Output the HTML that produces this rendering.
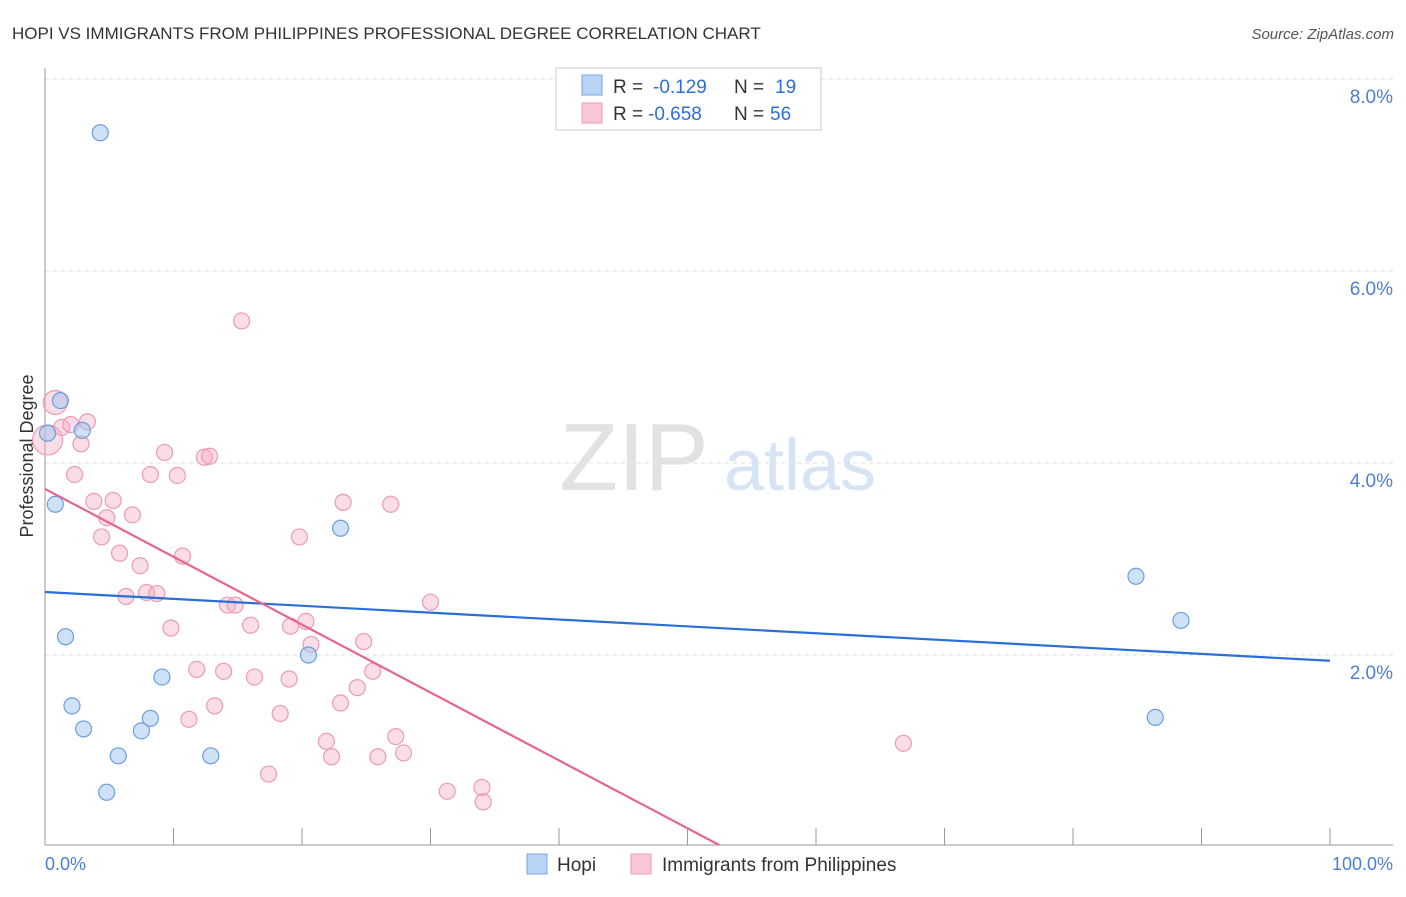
<!DOCTYPE html>
<html><head><meta charset="utf-8"><style>
body{margin:0;background:#fff;font-family:"Liberation Sans",sans-serif;}
svg text{font-family:"Liberation Sans",sans-serif;}
</style></head><body>
<svg width="1406" height="892" xmlns="http://www.w3.org/2000/svg">
<text x="12" y="39" font-size="17" fill="#333">HOPI VS IMMIGRANTS FROM PHILIPPINES PROFESSIONAL DEGREE CORRELATION CHART</text>
<text x="1394" y="39" font-size="15" fill="#555" font-style="italic" text-anchor="end">Source: ZipAtlas.com</text>
<g id="grid"></g>
<text x="634" y="490" font-size="96" fill="#e2e2e2" font-family="Liberation Serif" text-anchor="middle">ZIP</text>
<text x="800" y="490" font-size="72" fill="#d6e4f5" text-anchor="middle">atlas</text>
<line x1="45" y1="68" x2="45" y2="845" stroke="#999"/>
<line x1="45" y1="845" x2="1393" y2="845" stroke="#999"/>
<text transform="translate(33,456) rotate(-90)" font-size="18" fill="#333" text-anchor="middle">Professional Degree</text>
<text x="45" y="870" font-size="18" fill="#4a7fd4">0.0%</text>
<text x="1393" y="870" font-size="18" fill="#4a7fd4" text-anchor="end">100.0%</text>
<g id="marks"></g>
<g>
<rect x="556" y="68" width="265" height="62" fill="#fff" stroke="#ccc"/>
<rect x="582" y="75" width="20" height="20" fill="#b8d3f5" stroke="#7aa6e3"/>
<rect x="582" y="103" width="20" height="20" fill="#f8c6d4" stroke="#ea9ab2"/>
<text x="613" y="93" font-size="19" fill="#333">R =</text>
<text x="653" y="93" font-size="19" fill="#2d6fd6">-0.129</text>
<text x="734" y="93" font-size="19" fill="#333">N =</text>
<text x="775" y="93" font-size="19" fill="#2d6fd6">19</text>
<text x="613" y="120" font-size="19" fill="#333">R =</text>
<text x="648" y="120" font-size="19" fill="#2d6fd6">-0.658</text>
<text x="734" y="120" font-size="19" fill="#333">N =</text>
<text x="770" y="120" font-size="19" fill="#2d6fd6">56</text>
</g>
<g>
<rect x="527" y="854" width="20" height="20" fill="#b8d3f5" stroke="#7aa6e3"/>
<text x="557" y="871" font-size="19" fill="#333">Hopi</text>
<rect x="631" y="854" width="20" height="20" fill="#f8c6d4" stroke="#ea9ab2"/>
<text x="662" y="871" font-size="19" fill="#333">Immigrants from Philippines</text>
</g>
</svg>
<script>
const yTicks=[2,4,6,8];
const xTickCount=10;
const hopiX=[4.3,0.2,1.2,2.9,0.8,1.6,2.1,3.0,5.7,4.8,7.5,8.2,9.1,12.9,20.5,23.0,84.9,88.4,86.4];
const hopiY=[7.44,4.31,4.65,4.34,3.57,2.19,1.47,1.23,0.95,0.57,1.21,1.34,1.77,0.95,2.0,3.32,2.82,2.36,1.35];
const phX=[15.3,0.8,0.2,1.3,2.0,3.3,2.8,2.3,3.8,5.3,4.8,6.8,4.4,5.8,7.4,6.3,7.9,8.7,9.3,8.2,10.3,10.7,9.8,12.4,12.8,14.2,14.8,16.0,19.1,20.3,19.8,23.2,26.9,11.8,13.9,16.3,19.0,20.7,24.8,25.5,24.3,23.0,13.2,11.2,18.3,21.9,22.3,27.3,25.9,27.9,17.4,30.0,31.3,34.0,34.1,66.8];
const phY=[5.48,4.63,4.24,4.37,4.4,4.43,4.2,3.88,3.6,3.61,3.43,3.46,3.23,3.06,2.93,2.61,2.65,2.64,4.11,3.88,3.87,3.03,2.28,4.06,4.07,2.52,2.52,2.31,2.3,2.35,3.23,3.59,3.57,1.85,1.83,1.77,1.75,2.11,2.14,1.83,1.66,1.5,1.47,1.33,1.39,1.1,0.94,1.15,0.94,0.98,0.76,2.55,0.58,0.62,0.47,1.08];
const hopiLine=[2.656,1.94];   // value at x=0, x=100
const phLine=[3.73,-3.38];     // value at x=0, x=100
const X=v=>45+v*12.85, Y=v=>847-v*96;
const NS="http://www.w3.org/2000/svg";
const grid=document.getElementById('grid'), marks=document.getElementById('marks');
function mk(tag,attrs,parent){const e=document.createElementNS(NS,tag);for(const k in attrs)e.setAttribute(k,attrs[k]);parent.appendChild(e);return e;}
yTicks.forEach(t=>{
  const l=mk('line',{x1:45,x2:1393,y1:Y(t),y2:Y(t),stroke:'#ddd','stroke-dasharray':'4,4'},grid);
  
  
  const tx=mk('text',{x:1393,y:Y(t)+24,'font-size':19,fill:'#4a7fd4','text-anchor':'end'},grid);
  tx.textContent=t.toFixed(1)+'%';
  
  
});
for(let i=0;i<=xTickCount;i++){
  const l=mk('line',{x1:X(i*10),x2:X(i*10),y1:828,y2:845,stroke:'#999'},grid);
  
  
}
phX.forEach((x,i)=>{
  const r=i===2?15:(i===1?12:8);
  const c=mk('circle',{cx:X(x),cy:Y(phY[i]),r:r,fill:'rgba(245,170,195,0.4)',stroke:'#ec9ab5','stroke-width':1.2},marks);
  
  
});
hopiX.forEach((x,i)=>{
  const c=mk('circle',{cx:X(x),cy:Y(hopiY[i]),r:8,fill:'rgba(160,195,240,0.5)',stroke:'#6a9ee0','stroke-width':1.2},marks);
  
  
});
const bl=mk('line',{x1:X(0),y1:Y(hopiLine[0]),x2:X(100),y2:Y(hopiLine[1]),stroke:'#2a6fd6','stroke-width':2.2},marks);


const xz=phLine[0]/(phLine[0]-phLine[1])*100;
const pl=mk('line',{x1:X(0),y1:Y(phLine[0]),x2:X(xz),y2:Y(0)-2,stroke:'#e8648f','stroke-width':2.2},marks);


</script>
</body></html>
